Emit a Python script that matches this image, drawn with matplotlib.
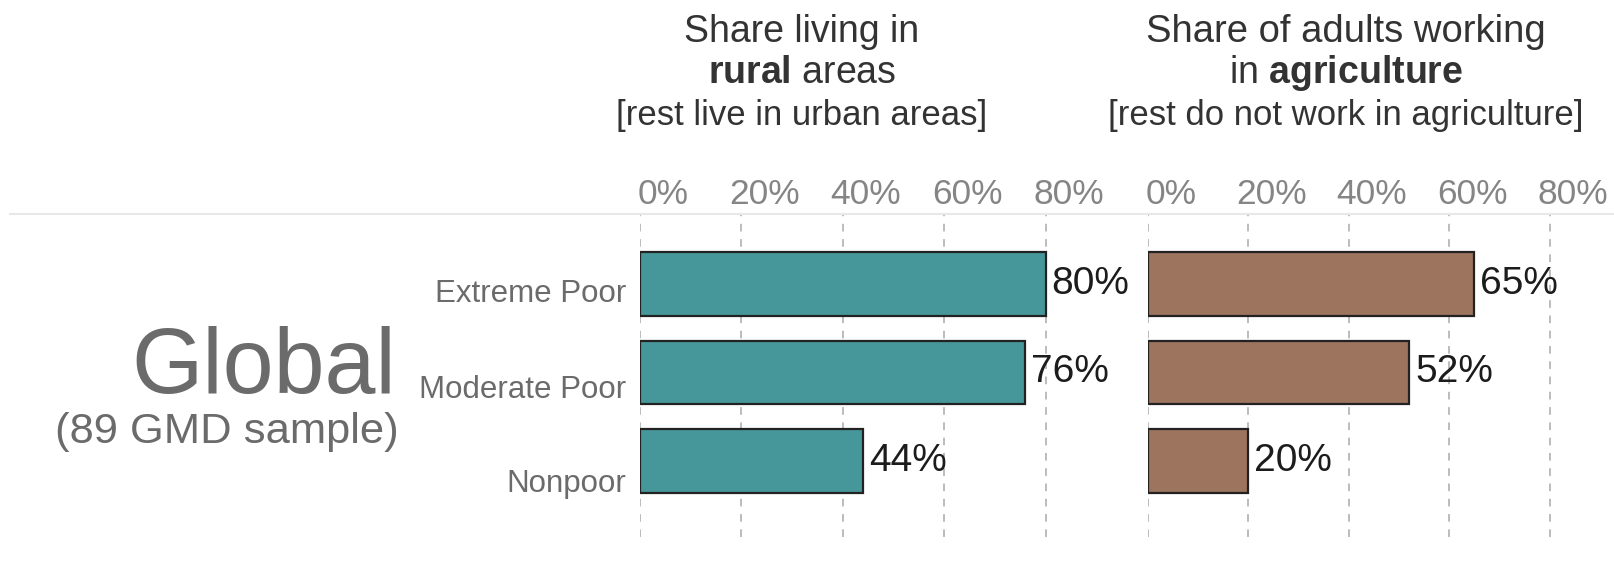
import matplotlib.pyplot as plt
from matplotlib.lines import Line2D
from matplotlib.transforms import ScaledTranslation

plt.rcParams['font.family'] = ['Liberation Sans', 'DejaVu Sans']
plt.rcParams['mathtext.fontset'] = 'custom'
plt.rcParams['mathtext.rm'] = 'Liberation Sans'
plt.rcParams['mathtext.bf'] = 'Liberation Sans:bold'

# poverty groups and the two shares (percent)
groups = ['Extreme Poor', 'Moderate Poor', 'Nonpoor']
rural_share = [80, 76, 44]
agri_share = [65, 52, 20]
ticks = [0, 20, 40, 60, 80]

teal = '#46979a'
brown = '#9d755e'
W, H = 1615, 569

fig = plt.figure(figsize=(W / 100, H / 100), dpi=100)

ax1 = fig.add_axes([640 / W, 1 - 537 / H, 460 / W, 323 / H])
ax2 = fig.add_axes([1148 / W, 1 - 537 / H, 464 / W, 323 / H])


def panel(ax, vals, color, xmax):
    y = range(len(vals))
    ax.barh(y, vals, height=0.72, color=color, edgecolor='#222222',
            linewidth=1.6, zorder=3)
    for i, v in enumerate(vals):
        ax.text(v + 1.2, i, f'{v}%', va='center', ha='left', fontsize=28,
                color='#1c1c1c', clip_on=False)
    ax.set_xlim(0, xmax)
    ax.set_ylim(2.86, -0.79)
    ax.set_xticks(ticks)
    ax.set_xticklabels([f'{t}%' for t in ticks])
    ax.xaxis.tick_top()
    ax.tick_params(axis='x', length=0, pad=2.5, labelsize=25.5, labelcolor='#858585')
    # tick labels sit a little to the right of their gridlines
    shift = ScaledTranslation(23 / 100, 0, fig.dpi_scale_trans)
    for lab in ax.get_xticklabels():
        lab.set_transform(lab.get_transform() + shift)
    ax.set_yticks([])
    for s in ax.spines.values():
        s.set_visible(False)
    for t in ticks:
        ax.axvline(t, color='#aaaaaa', lw=1.1, ls=(0, (5, 5)), zorder=1)


panel(ax1, rural_share, teal, 460 / 5.07)
panel(ax2, agri_share, brown, 464 / 5.02)
ax2.axvline(-0.5, color='#c4c4c4', lw=1.0, ls=(0, (5, 5)), zorder=1)

# category names sit slightly below each bar's centre
nudge = [0.2, 0.29, 0.35]
for i, g in enumerate(groups):
    ax1.text(-0.03, i + nudge[i], g, transform=ax1.get_yaxis_transform(),
             ha='right', va='baseline', fontsize=22.5, color='#6b6b6b')

# header rule
fig.add_artist(Line2D([10 / W, 1], [1 - 214 / H] * 2, color='#e8e8e8', lw=1.5))

# panel titles
tc = '#333333'
fig.text(802 / W, 1 - 42 / H, 'Share living in', ha='center', va='baseline',
         fontsize=27, color=tc)
fig.text(802 / W, 1 - 83 / H, r'$\mathbf{rural}$ areas', ha='center',
         va='baseline', fontsize=27, color=tc)
fig.text(802 / W, 1 - 125 / H, '[rest live in urban areas]', ha='center',
         va='baseline', fontsize=25, color=tc)
fig.text(1346 / W, 1 - 42 / H, 'Share of adults working', ha='center',
         va='baseline', fontsize=27.5, color=tc)
fig.text(1346 / W, 1 - 83 / H, r'in $\mathbf{agriculture}$', ha='center',
         va='baseline', fontsize=27, color=tc)
fig.text(1346 / W, 1 - 125 / H, '[rest do not work in agriculture]',
         ha='center', va='baseline', fontsize=25, color=tc)

# region label
fig.text(396 / W, 1 - 393 / H, 'Global', ha='right', va='baseline',
         fontsize=66, color='#6b6b6b')
fig.text(399 / W, 1 - 443 / H, '(89 GMD sample)', ha='right', va='baseline',
         fontsize=31.3, color='#6b6b6b')

fig.savefig('out.png', dpi=100)
